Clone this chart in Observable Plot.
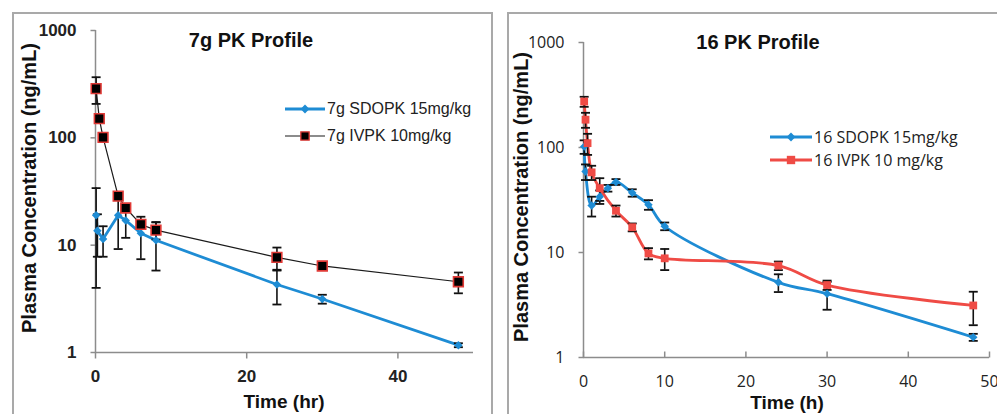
<!DOCTYPE html>
<html>
<head>
<meta charset="utf-8">
<script src="https://cdn.jsdelivr.net/npm/d3@7"></script>
<script src="https://cdn.jsdelivr.net/npm/@observablehq/plot@0.6"></script>
<style>
  body { margin:0; background:#fff; width:997px; height:414px; position:relative; overflow:hidden; }
  .abs { position:absolute; }
  .frame { position:absolute; border:2px solid #a9a9a9; box-sizing:border-box; }
  .lbl { position:absolute; transform:translate(-50%,-50%); white-space:nowrap; color:#111; }
  .ylbl { position:absolute; transform:translate(-50%,-50%) rotate(-90deg); white-space:nowrap; color:#111; }
  .leg { position:absolute; display:flex; align-items:center; white-space:nowrap; color:#222; transform:translateY(-50%); }
  .leg svg { margin-right:2px; }
</style>
</head>
<body>
<div class="frame" style="left:12px;top:12px;width:481px;height:430px;"></div>
<div class="frame" style="left:507px;top:12px;width:520px;height:430px;"></div>
<div id="left" class="abs" style="left:0;top:0;"></div>
<div id="right" class="abs" style="left:500px;top:0;"></div>
<script>
// ---- 7g panel data ----
const times7SD = [0.083, 0.25, 1, 3, 4, 6, 8, 24, 30, 48];
const conc7SD  = [19, 13.6, 11.4, 19, 17, 12.9, 11.1, 4.3, 3.15, 1.17];
const err7SD   = [15, 5.8, 3.6, 9.8, 5.3, 5.5, 5.3, 1.5, 0.3, 0.05];
const times7IV = [0.083, 0.5, 1, 3, 4, 6, 8, 24, 30, 48];
const conc7IV  = [287, 151, 101, 28.6, 22.2, 15.6, 13.8, 7.7, 6.4, 4.56];
const err7IV   = [80, 0, 0, 0, 0, 0, 2.5, 1.8, 0.3, 1.0];
// ---- 16 panel data ----
const times16SD = [0.083, 0.25, 1, 2, 3, 4, 6, 8, 10, 24, 30, 48];
const conc16SD  = [102, 59, 28, 34, 41, 47, 37, 28.5, 17.8, 5.2, 4.05, 1.56];
const err16SD   = [15, 10, 6, 5, 3, 3, 3, 3, 1.5, 1.0, 1.2, 0.12];
const times16IV = [0.083, 0.25, 0.5, 1, 2, 4, 6, 8, 10, 24, 30, 48];
const conc16IV  = [274, 184, 110, 58, 41, 25, 17.4, 9.8, 8.8, 7.5, 4.9, 3.13];
const err16IV   = [30, 30, 25, 9, 10, 3, 1.5, 1.2, 2, 0.7, 0.5, 1.1];

const yTicks = [1, 10, 100, 1000];
const xTicks7 = [0, 20, 40];
const xTicks16 = [0, 10, 20, 30, 40, 50];

const titles = ["7g PK Profile", "16 PK Profile"];
const xLabels = ["Time (hr)", "Time (h)"];
const yLabel = "Plasma Concentration (ng/mL)";
const legend7 = ["7g SDOPK 15mg/kg", "7g IVPK 10mg/kg"];
const legend16 = ["16 SDOPK 15mg/kg", "16 IVPK 10 mg/kg"];

const BLUE = "#1e8cd4";
const RED = "#ef4b45";

function rows(t, c, e) { return t.map((x, i) => ({t: x, c: c[i], e: e[i]})); }

const capSym = { draw(ctx) { ctx.moveTo(-4.5, 0); ctx.lineTo(4.5, 0); } };
const tickDown = { draw(ctx) { ctx.moveTo(0, 0); ctx.lineTo(0, 6); } };
const tickUp = { draw(ctx) { ctx.moveTo(0, 0); ctx.lineTo(0, -6); } };
const tickLeft = { draw(ctx) { ctx.moveTo(0, 0); ctx.lineTo(-5, 0); } };

function errMarks(data) {
  const d = data.filter(r => r.e > 0);
  return [
    Plot.ruleX(d, {x: "t", y1: r => r.c - r.e, y2: r => r.c + r.e, stroke: "#111", strokeWidth: 1.6}),
    Plot.dot(d, {x: "t", y: r => r.c - r.e, symbol: capSym, stroke: "#111", strokeWidth: 1.8, r: 3}),
    Plot.dot(d, {x: "t", y: r => r.c + r.e, symbol: capSym, stroke: "#111", strokeWidth: 1.8, r: 3})
  ];
}

// ---- Left panel ----
const sd7 = rows(times7SD, conc7SD, err7SD);
const iv7 = rows(times7IV, conc7IV, err7IV);
const left = Plot.plot({
  width: 497, height: 414,
  marginLeft: 95, marginRight: 24, marginTop: 30, marginBottom: 62,
  style: {fontFamily: "'Liberation Sans', Arial, sans-serif", fontSize: "17px", fontWeight: "bold", background: "transparent", color: "#222", overflow: "visible"},
  x: {type: "linear", domain: [0, 50]},
  y: {type: "log", domain: [1, 1000]},
  marks: [
    Plot.ruleX([0], {stroke: "#8c8c8c", strokeWidth: 1.5}),
    Plot.ruleY([1], {stroke: "#8c8c8c", strokeWidth: 1.5}),
    Plot.dot(xTicks7, {x: d => d, y: () => 1, symbol: tickDown, stroke: "#8c8c8c", strokeWidth: 1.5}),
    Plot.dot(yTicks, {x: () => 0, y: d => d, symbol: tickLeft, stroke: "#8c8c8c", strokeWidth: 1.5}),
    Plot.axisX(xTicks7, {tickSize: 0, tickPadding: 17, label: null, tickFormat: d => String(d)}),
    Plot.axisY(yTicks, {tickSize: 0, tickPadding: 19, label: null, tickFormat: d => String(d)}),
    Plot.line(sd7, {x: "t", y: "c", stroke: BLUE, strokeWidth: 2.8}),
    Plot.line(iv7, {x: "t", y: "c", stroke: "#1a1a1a", strokeWidth: 1.2}),
    ...errMarks(sd7),
    ...errMarks(iv7),
    Plot.dot(sd7, {x: "t", y: "c", symbol: "diamond2", fill: BLUE, r: 3.8}),
    Plot.dot(iv7, {x: "t", y: "c", symbol: "square", fill: "#000", stroke: "#e03a36", strokeWidth: 1.6, r: 5.5})
  ]
});
document.getElementById("left").appendChild(left);

// ---- Right panel ----
const sd16 = rows(times16SD, conc16SD, err16SD);
const iv16 = rows(times16IV, conc16IV, err16IV);
const right = Plot.plot({
  width: 497, height: 414,
  marginLeft: 83, marginRight: 8, marginTop: 42, marginBottom: 57,
  style: {fontFamily: "'Open Sans', sans-serif", fontSize: "16px", background: "transparent", color: "#222", overflow: "visible"},
  x: {type: "linear", domain: [0, 50]},
  y: {type: "log", domain: [1, 1000]},
  marks: [
    Plot.ruleX([0], {stroke: "#8c8c8c", strokeWidth: 1.5}),
    Plot.ruleY([1], {stroke: "#8c8c8c", strokeWidth: 1.5}),
    Plot.dot(xTicks16, {x: d => d, y: () => 1, symbol: tickUp, stroke: "#8c8c8c", strokeWidth: 1.5}),
    Plot.dot(yTicks, {x: () => 0, y: d => d, symbol: tickLeft, stroke: "#8c8c8c", strokeWidth: 1.5}),
    Plot.axisX(xTicks16, {tickSize: 0, tickPadding: 18, label: null, tickFormat: d => String(d)}),
    Plot.axisY(yTicks, {tickSize: 0, tickPadding: 19, label: null, tickFormat: d => String(d)}),
    Plot.line(sd16, {x: "t", y: "c", stroke: BLUE, strokeWidth: 2.8, curve: "catmull-rom"}),
    Plot.line(iv16, {x: "t", y: "c", stroke: RED, strokeWidth: 2.8, curve: "catmull-rom"}),
    ...errMarks(sd16),
    ...errMarks(iv16),
    Plot.dot(sd16, {x: "t", y: "c", symbol: "diamond2", fill: BLUE, r: 3.8}),
    Plot.dot(iv16, {x: "t", y: "c", symbol: "square", fill: RED, r: 4.4})
  ]
});
document.getElementById("right").appendChild(right);

// ---- HTML texts ----
function addText(cls, txt, x, y, css) {
  const el = document.createElement("div");
  el.className = cls; el.textContent = txt;
  el.style.left = x + "px"; el.style.top = y + "px";
  Object.assign(el.style, css);
  document.body.appendChild(el);
}
const boldArial = {fontFamily: "'Liberation Sans', Arial, sans-serif", fontWeight: "bold"};
addText("lbl", titles[0], 251, 40, {...boldArial, fontSize: "20px"});
addText("lbl", titles[1], 758, 42, {...boldArial, fontSize: "20px"});
addText("lbl", xLabels[0], 284, 402, {...boldArial, fontSize: "19px"});
addText("lbl", xLabels[1], 787, 403, {...boldArial, fontSize: "19px"});
addText("ylbl", yLabel, 29, 188, {...boldArial, fontSize: "20px"});
addText("ylbl", yLabel, 521, 197, {...boldArial, fontSize: "20px"});

function swatch(color, sym, markerFill, markerStroke, w, lineW) {
  const s = d3.create("svg").attr("width", w).attr("height", 14);
  s.append("line").attr("x1", 0).attr("x2", w).attr("y1", 7).attr("y2", 7).attr("stroke", color).attr("stroke-width", lineW);
  const sz = sym === "sq" ? 70 : 50;
  s.append("path").attr("transform", `translate(${w/2},7)`)
    .attr("d", d3.symbol(sym === "sq" ? d3.symbolSquare : d3.symbolDiamond2, sz)())
    .attr("fill", markerFill).attr("stroke", markerStroke || "none").attr("stroke-width", 1.3);
  return s.node();
}
function addLegend(items, x, ys, font) {
  items.forEach((it, i) => {
    const el = document.createElement("div");
    el.className = "leg";
    el.style.left = x + "px"; el.style.top = ys[i] + "px";
    Object.assign(el.style, font);
    el.appendChild(it.sw);
    const sp = document.createElement("span"); sp.textContent = it.text;
    el.appendChild(sp);
    document.body.appendChild(el);
  });
}
addLegend([
  {sw: swatch(BLUE, "dia", BLUE, null, 40, 2.8), text: legend7[0]},
  {sw: swatch("#1a1a1a", "sq", "#000", "#e03a36", 40, 1.2), text: legend7[1]}
], 285, [109, 136], {fontFamily: "'Liberation Sans', Arial, sans-serif", fontSize: "16px"});
addLegend([
  {sw: swatch(BLUE, "dia", BLUE, null, 42, 2.8), text: legend16[0]},
  {sw: swatch(RED, "sq", RED, null, 42, 2.8), text: legend16[1]}
], 770, [137, 160], {fontFamily: "'Open Sans', sans-serif", fontSize: "16px"});
</script>
</body>
</html>
